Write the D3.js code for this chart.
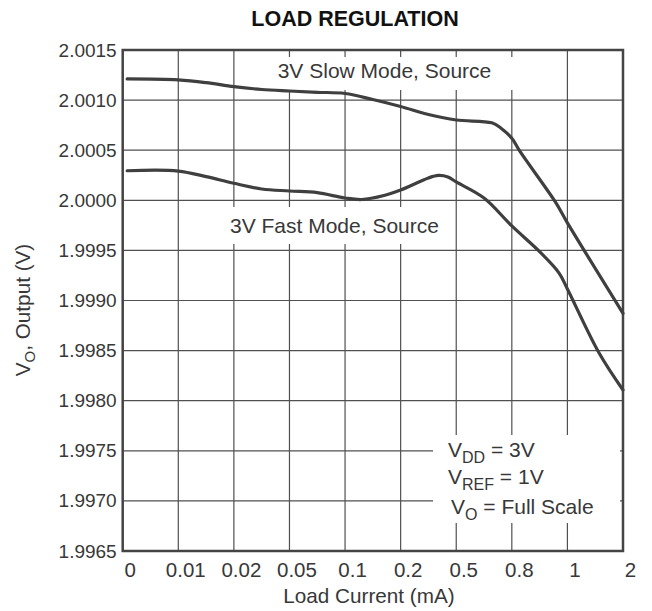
<!DOCTYPE html>
<html>
<head>
<meta charset="utf-8">
<script src="https://cdn.jsdelivr.net/npm/d3@7"></script>
<style>
  html, body { margin: 0; padding: 0; background: #fff; }
  svg { display: block; font-family: "Liberation Sans", Arial, Helvetica, sans-serif; }
</style>
</head>
<body>
<svg id="chart" width="652" height="611"></svg>
<script>
// ---- data ----
const xTickLabels = ["0", "0.01", "0.02", "0.05", "0.1", "0.2", "0.5", "0.8", "1", "2"];
const yTicks = [1.9965, 1.9970, 1.9975, 1.9980, 1.9985, 1.9990, 1.9995, 2.0000, 2.0005, 2.0010, 2.0015];

// x given as position along the (non-linear) load-current axis, in tick-index units
const slowPos = [0.08, 1, 1.5, 2, 2.5, 3, 3.5, 4, 4.5, 5, 5.5, 6, 6.64, 6.8, 7, 7.15, 7.78, 8, 9];
const slowVal = [2.001211, 2.001201, 2.001174, 2.001134, 2.001106, 2.001091, 2.001078, 2.001066, 2.001006, 2.000936, 2.000856, 2.000801, 2.000773, 2.000722, 2.000619, 2.000485, 1.999986, 1.999775, 1.998872];

const fastPos = [0.08, 1, 1.5, 2, 2.5, 3, 3.5, 4, 4.3, 4.7, 5, 5.5, 5.68, 5.85, 6, 6.5, 7, 7.5, 7.85, 8, 8.57, 9];
const fastVal = [2.000295, 2.000292, 2.000236, 2.00017, 2.000113, 2.000093, 2.000076, 2.000023, 2.000008, 2.000048, 2.000103, 2.000223, 2.000248, 2.000233, 2.000183, 2.000023, 1.999744, 1.999487, 1.999274, 1.999115, 1.998476, 1.998107];

const title = "LOAD REGULATION";
const xTitle = "Load Current (mA)";
const slowLabel = "3V Slow Mode, Source";
const fastLabel = "3V Fast Mode, Source";

// ---- layout ----
const L = 122.7, R = 623, T = 50, B = 551;
const svg = d3.select("#chart");
const ink = "#383838";
const gridCol = "#505050";

const x = d3.scaleLinear().domain([0, xTickLabels.length - 1]).range([L, R]);
const y = d3.scaleLinear().domain([1.9965, 2.0015]).range([B, T]);

// grid
const g = svg.append("g");
g.selectAll(".vg").data(d3.range(1, xTickLabels.length - 1)).join("line")
  .attr("x1", d => x(d)).attr("x2", d => x(d)).attr("y1", T).attr("y2", B)
  .attr("stroke", gridCol).attr("stroke-width", 1.2);
g.selectAll(".hg").data(yTicks.slice(1, -1)).join("line")
  .attr("x1", L).attr("x2", R).attr("y1", d => y(d)).attr("y2", d => y(d))
  .attr("stroke", gridCol).attr("stroke-width", 1.2);

// white boxes behind annotations
svg.append("rect").attr("x", 271).attr("y", 57).attr("width", 243).attr("height", 33).attr("fill", "#fff");
svg.append("rect").attr("x", 224).attr("y", 207).attr("width", 221).attr("height", 37).attr("fill", "#fff");
svg.append("rect").attr("x", 433).attr("y", 435).attr("width", 187).attr("height", 88).attr("fill", "#fff");

// border
svg.append("rect").attr("x", L).attr("y", T).attr("width", R - L).attr("height", B - T)
  .attr("fill", "none").attr("stroke", "#444").attr("stroke-width", 2.5);

// curves
const line = d3.line().x(d => x(d[0])).y(d => y(d[1])).curve(d3.curveCatmullRom.alpha(0.5));
[[slowPos, slowVal], [fastPos, fastVal]].forEach(([p, v]) => {
  svg.append("path").datum(p.map((pp, i) => [pp, v[i]]))
    .attr("d", line).attr("fill", "none").attr("stroke", "#3f3f3f")
    .attr("stroke-width", 3.2).attr("stroke-linejoin", "round").attr("stroke-linecap", "round");
});

// axes (labels via d3 axes, domain/ticks hidden)
const xAxis = d3.axisBottom(x).tickValues(d3.range(xTickLabels.length))
  .tickFormat(i => xTickLabels[i]).tickSize(0).tickPadding(0);
const xa = svg.append("g").attr("transform", `translate(7,${B + 26})`).call(xAxis);
xa.select(".domain").remove();
xa.selectAll("text").attr("font-size", 20.5).attr("fill", ink)
  .attr("font-family", "Liberation Sans, Arial, sans-serif").attr("dy", 0);

const yAxis = d3.axisLeft(y).tickValues(yTicks).tickFormat(d3.format(".4f")).tickSize(0).tickPadding(6);
const ya = svg.append("g").attr("transform", `translate(${L},0)`).call(yAxis);
ya.select(".domain").remove();
ya.selectAll("text").attr("font-size", 19).attr("fill", ink)
  .attr("font-family", "Liberation Sans, Arial, sans-serif");

// title
svg.append("text").attr("x", 355).attr("y", 26).attr("text-anchor", "middle")
  .attr("font-size", 21.5).attr("font-weight", "bold").attr("fill", "#111").text(title);

// x title
svg.append("text").attr("x", 369).attr("y", 603).attr("text-anchor", "middle")
  .attr("font-size", 20.7).attr("fill", ink).text(xTitle);

// y title
const yt = svg.append("text").attr("transform", "translate(30,310) rotate(-90)")
  .attr("text-anchor", "middle").attr("font-size", 20.7).attr("fill", ink);
yt.append("tspan").text("V");
yt.append("tspan").attr("font-size", 15).attr("dy", 5).text("O");
yt.append("tspan").attr("dy", -5).text(", Output (V)");

// curve annotations
svg.append("text").attr("x", 277.7).attr("y", 78).attr("font-size", 21).attr("fill", ink).text(slowLabel);
svg.append("text").attr("x", 230).attr("y", 233).attr("font-size", 21).attr("fill", ink).text(fastLabel);

// conditions
const cond = [
  { sub: "DD", rest: " = 3V", x: 448, y: 457 },
  { sub: "REF", rest: " = 1V", x: 448, y: 484 },
  { sub: "O", rest: " = Full Scale", x: 451, y: 514 }
];
cond.forEach(c => {
  const t = svg.append("text").attr("x", c.x).attr("y", c.y).attr("font-size", 21).attr("fill", ink);
  t.append("tspan").text("V");
  t.append("tspan").attr("font-size", 16).attr("dy", 6).text(c.sub);
  t.append("tspan").attr("dy", -6).text(c.rest);
});
</script>
</body>
</html>
